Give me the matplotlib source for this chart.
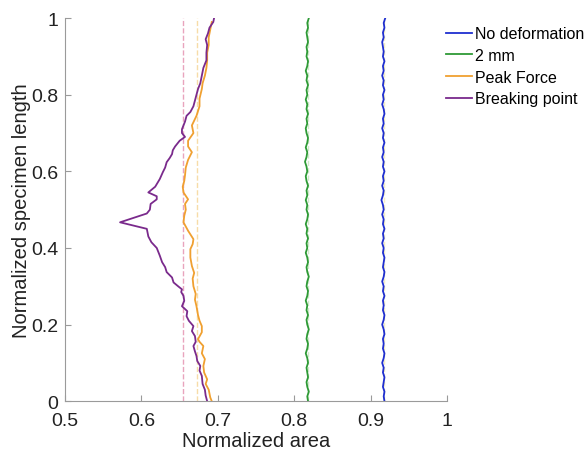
import matplotlib
matplotlib.use('Agg')
import matplotlib.pyplot as plt
import numpy as np

plt.rcParams['font.family'] = ['Liberation Sans', 'DejaVu Sans']

# no deformation / 2 mm: sampled every 0.0125 along the length
y_fine = np.linspace(0, 1, 81)
no_def = [0.918,0.917,0.918,0.916,0.917,0.918,0.916,0.917,0.915,0.917,
          0.918,0.916,0.917,0.916,0.918,0.917,0.915,0.917,0.918,0.916,
          0.917,0.916,0.918,0.916,0.917,0.915,0.917,0.918,0.916,0.917,
          0.918,0.916,0.917,0.915,0.917,0.916,0.918,0.916,0.917,0.915,
          0.917,0.916,0.914,0.916,0.917,0.915,0.917,0.916,0.918,0.916,
          0.917,0.915,0.917,0.916,0.918,0.916,0.917,0.915,0.917,0.916,
          0.918,0.917,0.915,0.917,0.916,0.918,0.916,0.917,0.915,0.917,
          0.916,0.918,0.916,0.917,0.916,0.915,0.917,0.916,0.918,0.917,
          0.919]
mm2 = [0.818,0.817,0.819,0.817,0.816,0.818,0.817,0.816,0.818,0.817,
       0.815,0.817,0.818,0.816,0.817,0.819,0.817,0.816,0.818,0.816,
       0.817,0.815,0.817,0.818,0.816,0.817,0.819,0.817,0.816,0.818,
       0.817,0.815,0.817,0.816,0.818,0.816,0.817,0.815,0.817,0.818,
       0.816,0.817,0.815,0.817,0.816,0.818,0.816,0.815,0.817,0.816,
       0.814,0.816,0.817,0.815,0.817,0.818,0.816,0.815,0.817,0.816,
       0.818,0.816,0.817,0.815,0.817,0.816,0.818,0.816,0.817,0.815,
       0.817,0.818,0.816,0.817,0.816,0.818,0.817,0.816,0.818,0.817,
       0.819]

peak_y = [0.00,0.01,0.03,0.045,0.057,0.075,0.092,0.11,0.125,0.144,0.155,0.162,0.18,0.196,
          0.21,0.225,0.248,0.265,0.28,0.30,0.32,0.335,0.353,0.375,0.397,0.41,0.423,0.445,
          0.467,0.484,0.50,0.515,0.527,0.545,0.56,0.575,0.59,0.61,0.63,0.65,0.665,0.68,
          0.70,0.72,0.745,0.77,0.79,0.815,0.83,0.85,0.87,0.89,0.91,0.93,0.95,0.97,0.99]
peak = [0.692,0.690,0.688,0.684,0.686,0.682,0.681,0.683,0.679,0.681,0.676,0.674,0.679,0.679,
        0.676,0.674,0.672,0.670,0.671,0.668,0.667,0.669,0.666,0.664,0.664,0.667,0.668,0.661,
        0.655,0.656,0.658,0.657,0.661,0.655,0.654,0.656,0.657,0.658,0.661,0.666,0.661,0.661,
        0.668,0.666,0.672,0.676,0.676,0.679,0.680,0.683,0.685,0.686,0.686,0.688,0.688,0.690,0.692]

break_y = [0.00,0.015,0.03,0.045,0.066,0.08,0.092,0.105,0.118,0.13,0.144,0.155,0.17,0.183,
           0.196,0.21,0.222,0.235,0.248,0.262,0.275,0.285,0.292,0.30,0.31,0.323,0.337,0.35,
           0.363,0.38,0.40,0.415,0.43,0.45,0.467,0.49,0.50,0.515,0.527,0.535,0.545,0.56,
           0.58,0.598,0.61,0.624,0.635,0.645,0.655,0.665,0.68,0.69,0.70,0.71,0.72,0.73,
           0.745,0.755,0.77,0.785,0.80,0.815,0.83,0.85,0.87,0.88,0.89,0.91,0.93,0.945,
           0.96,0.975,0.99,1.0]
breaking = [0.686,0.684,0.683,0.680,0.679,0.676,0.677,0.673,0.672,0.670,0.668,0.671,0.670,0.666,
            0.668,0.662,0.659,0.660,0.653,0.656,0.655,0.652,0.653,0.648,0.642,0.640,0.633,0.631,
            0.627,0.624,0.620,0.613,0.609,0.607,0.572,0.607,0.611,0.612,0.620,0.620,0.609,0.618,
            0.624,0.628,0.631,0.633,0.637,0.640,0.641,0.644,0.650,0.657,0.653,0.653,0.655,0.657,
            0.659,0.664,0.668,0.670,0.672,0.674,0.677,0.679,0.681,0.683,0.685,0.685,0.686,0.684,
            0.687,0.689,0.694,0.695]

# mean areas (dashed)
mean_break = 0.654
mean_peak = 0.673
mean_2mm = 0.818
mean_nodef = 0.918

fig = plt.figure(figsize=(5.86, 4.56), dpi=100)
ax = fig.add_axes([0.111, 0.118, 0.652, 0.840])

ax.axvline(mean_nodef, color='#f3ecc0', ls='--', lw=1)
ax.axvline(mean_2mm, color='#cfe9c8', ls='--', lw=1)
ax.axvline(mean_peak, color='#f7dca8', ls='--', lw=1)
ax.axvline(mean_break, color='#e9a4bd', ls='--', lw=1)

ax.plot(no_def, y_fine, color='#1f2fd0', lw=1.3, label='No deformation')
ax.plot(mm2, y_fine, color='#2e9a36', lw=1.3, label='2 mm')
ax.plot(peak, peak_y, color='#f0a030', lw=1.3, label='Peak Force')
ax.plot(breaking, break_y, color='#7a2a8c', lw=1.3, label='Breaking point')

ax.set_xlim(0.5, 1)
ax.set_ylim(0, 1)
ax.set_xticks([0.5, 0.6, 0.7, 0.8, 0.9, 1])
ax.set_xticklabels(['0.5', '0.6', '0.7', '0.8', '0.9', '1'])
ax.set_yticks([0, 0.2, 0.4, 0.6, 0.8, 1])
ax.set_yticklabels(['0', '0.2', '0.4', '0.6', '0.8', '1'])
for s in ['top', 'right']:
    ax.spines[s].set_visible(False)
for s in ['left', 'bottom']:
    ax.spines[s].set_color('#9a9a9a')
ax.tick_params(direction='in', colors='#9a9a9a', labelcolor='#222222', labelsize=14, length=4)
ax.tick_params(axis='y', pad=5)
ax.tick_params(axis='x', pad=8)
ax.set_xlabel('Normalized area', fontsize=14.5, color='#222222', labelpad=1)
ax.set_ylabel('Normalized specimen length', fontsize=14.5, color='#222222', labelpad=0)

ax.legend(loc='upper left', bbox_to_anchor=(0.997, 0.979), frameon=False, fontsize=11.5,
          handlelength=1.65, handletextpad=0.15, labelspacing=0.42,
          borderaxespad=0, borderpad=0)

fig.savefig('out.png', dpi=100)
